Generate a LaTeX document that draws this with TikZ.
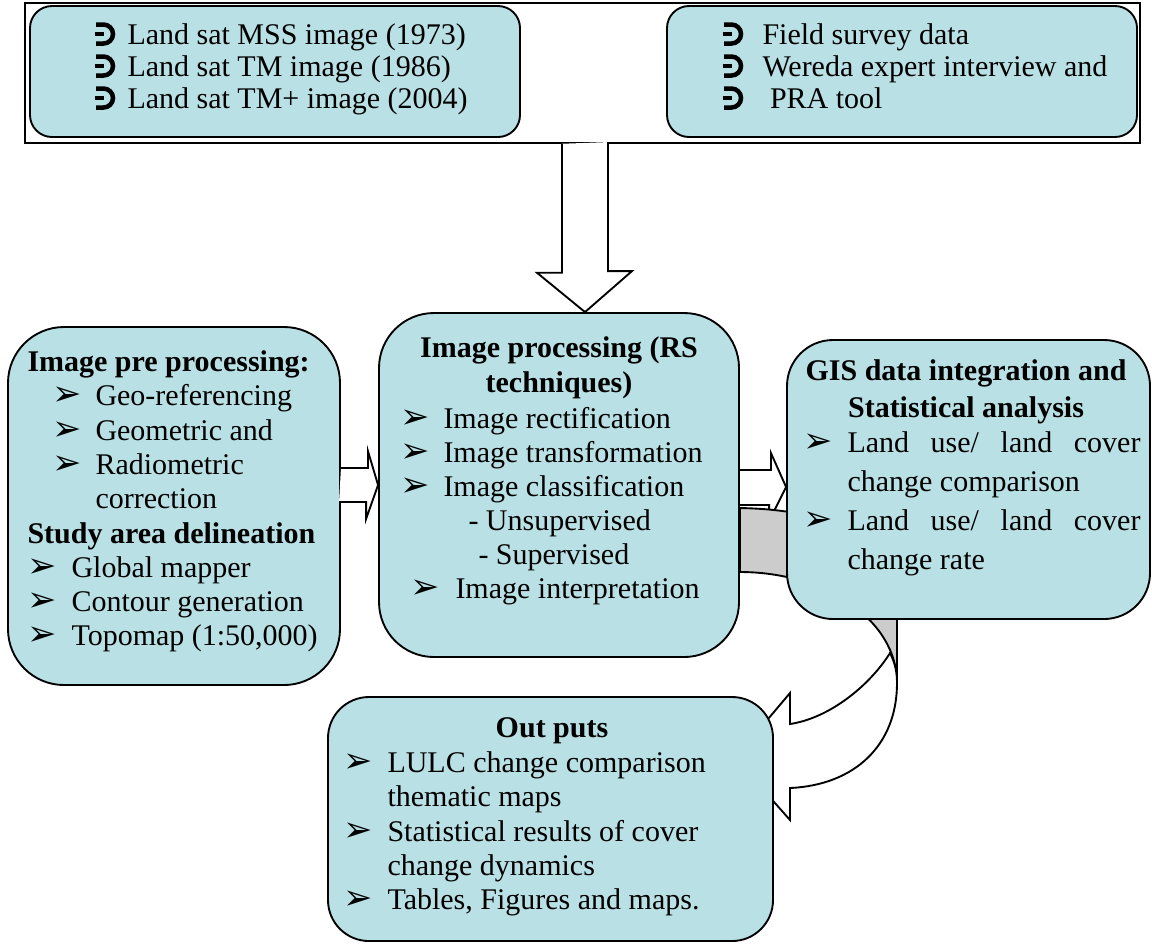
\documentclass[tikz,border=0pt]{standalone}
\usepackage{fontspec}
\setmainfont{Liberation Serif}
\newfontfamily\bulfont{DejaVu Sans}
\usetikzlibrary{calc,backgrounds}
\definecolor{boxteal}{RGB}{185,224,228}
\definecolor{backgrey}{RGB}{204,204,204}
% list bullets
\newcommand{\ahd}[1]{\makebox[#1][l]{\bulfont\fontsize{14}{14}\selectfont ➢}}
\newcommand{\hookbul}{\tikz[baseline=-0.4pt]{\draw[line width=1.8pt] (0.6pt,7.6pt) -- (3.6pt,7.6pt) arc[start angle=90,end angle=-90,radius=3.8pt] -- (0.6pt,0pt); \draw[line width=1.6pt] (0pt,3.8pt) -- (3.8pt,3.8pt);}}
\tikzset{
  box/.style={draw, fill=boxteal, line width=0.75pt, rounded corners=#1, inner sep=0pt},
  blk/.style={draw, fill=white, line width=0.75pt},
  txt/.style={inner sep=0pt, anchor=north west, align=left},
}
\begin{document}
\begin{tikzpicture}[x=0.4pt,y=-0.4pt]
\useasboundingbox (0,0) rectangle (1152,943);
% input data
\node[draw,line width=0.6pt,minimum width=446pt,minimum height=56pt,inner sep=0pt] (inputs) at (582.5,73) {};
\node[box=8.8pt,minimum width=196pt,minimum height=52.4pt] (sat) at (275,71.5) {};
\node[box=8.8pt,minimum width=188pt,minimum height=52.4pt] (field) at (902,71.5) {};
\node[txt,font=\fontsize{12}{12.8}\selectfont] (sattxt) at (92,21.6) {\strut\makebox[14pt][l]{\hookbul}Land sat MSS image (1973)\\
  \makebox[14pt][l]{\hookbul}Land sat TM image (1986)\\
  \makebox[14pt][l]{\hookbul}Land sat TM+ image (2004)};
\node[txt,font=\fontsize{12}{12.8}\selectfont] (fieldtxt) at (720,21.6) {\strut\makebox[16.8pt][l]{\hookbul}Field survey data\\
  \makebox[16.8pt][l]{\hookbul}Wereda expert interview and\\
  \makebox[16.8pt][l]{\hookbul} PRA tool};

% processing steps
\node[box=22.4pt,minimum width=132.8pt,minimum height=143.2pt] (pre) at (174,506) {};
\node[box=22pt,minimum width=144pt,minimum height=137.6pt] (proc) at (559,485) {};
\node[box=18.4pt,minimum width=145.2pt,minimum height=111.6pt] (gis) at (968.5,479.5) {};
\node[box=16.4pt,minimum width=178pt,minimum height=97.6pt] (out) at (550.5,819) {};

\node[txt,font=\fontsize{12}{13.72}\selectfont] (pretxt) at (27,347) {\strut\textbf{Image pre processing:}\\
  \hspace*{10pt}\ahd{17.2pt}Geo-referencing\\
  \hspace*{10pt}\ahd{17.2pt}Geometric and\\
  \hspace*{10pt}\ahd{17.2pt}Radiometric\\
  \hspace*{27.2pt}correction\\
  \textbf{Study area delineation}\\
  \ahd{17.6pt}Global mapper\\
  \ahd{17.6pt}Contour generation\\
  \ahd{17.6pt}Topomap (1:50,000)};

\node[txt,anchor=north,align=center,font=\bfseries\fontsize{12}{14}\selectfont] (proctitle) at (559,332.5) {\strut Image processing (RS\\techniques)};
\node[txt,font=\fontsize{12}{13.6}\selectfont] (proctxt) at (400,404) {\strut\ahd{17.2pt}Image rectification\\
  \ahd{17.2pt}Image transformation\\
  \ahd{17.2pt}Image classification\\
  \hspace*{27.2pt}- Unsupervised\\
  \hspace*{31.2pt}- Supervised\\
  \hspace*{4pt}\ahd{18pt}Image interpretation};

\node[txt,anchor=north,align=center,font=\bfseries\fontsize{12}{14.8}\selectfont] (gistitle) at (966,354) {\strut GIS data integration and\\Statistical analysis};
\node[txt,font=\fontsize{12}{15.6}\selectfont] (gistxt) at (803,424.7) {\strut\ahd{17.6pt}\makebox[117.2pt][s]{Land use/ land cover}\\
  \hspace*{17.6pt}change comparison\\
  \ahd{17.6pt}\makebox[117.2pt][s]{Land use/ land cover}\\
  \hspace*{17.6pt}change rate};

\node[inner sep=0pt,anchor=base,font=\bfseries\fontsize{12}{14}\selectfont] (outtitle) at (552,737) {Out puts};
\node[txt,font=\fontsize{12}{13.7}\selectfont] (outtxt) at (343,748) {\strut\ahd{17.6pt}LULC change comparison\\
  \hspace*{17.6pt}thematic maps\\
  \ahd{17.6pt}Statistical results of cover\\
  \hspace*{17.6pt}change dynamics\\
  \ahd{17.6pt}Tables, Figures and maps.};

% block arrows
\draw[blk] ($(inputs.south)+(-20.5,0)$) -- ++(0,129) -- ++(-25,0) -- ($(proc.north)+(26,0)$) -- ++(47,-41) -- ++(-24,0) -- ++(0,-129);
\draw[blk] ($(pre.east)+(0,-38)$) -- ++(27,0) -- ++(0,-17) -- (proc.west) -- ++(-12,34) -- ++(0,-17) -- ++(-27,0);
\begin{pgfonlayer}{background}
\draw[blk] ($(proc.east)+(0,-15)$) -- ++(31,0) -- ++(0,-17) -- ($(gis.west)+(0,7.5)$) -- ++(-17,34) -- ++(0,-16) -- ++(-31,0);
% curved arrow to outputs
\draw[line width=0.75pt,fill=backgrey] ($(proc.east)+(0,23)$) .. controls (850,510) and (897,550) .. (897,610) -- (897,683)
  .. controls (897,620.4) and (825.7,572) .. ($(proc.east)+(0,87)$) -- cycle;
\draw[blk] (890,653) .. controls (895,663) and (897,672) .. (897,683) .. controls (897,745) and (855,785) .. (790,788)
  -- (790,820) -- (735,758) -- (790,693) -- (790,724) .. controls (830,718) and (870,685) .. (890,653) -- cycle;
\end{pgfonlayer}
\end{tikzpicture}
\end{document}
